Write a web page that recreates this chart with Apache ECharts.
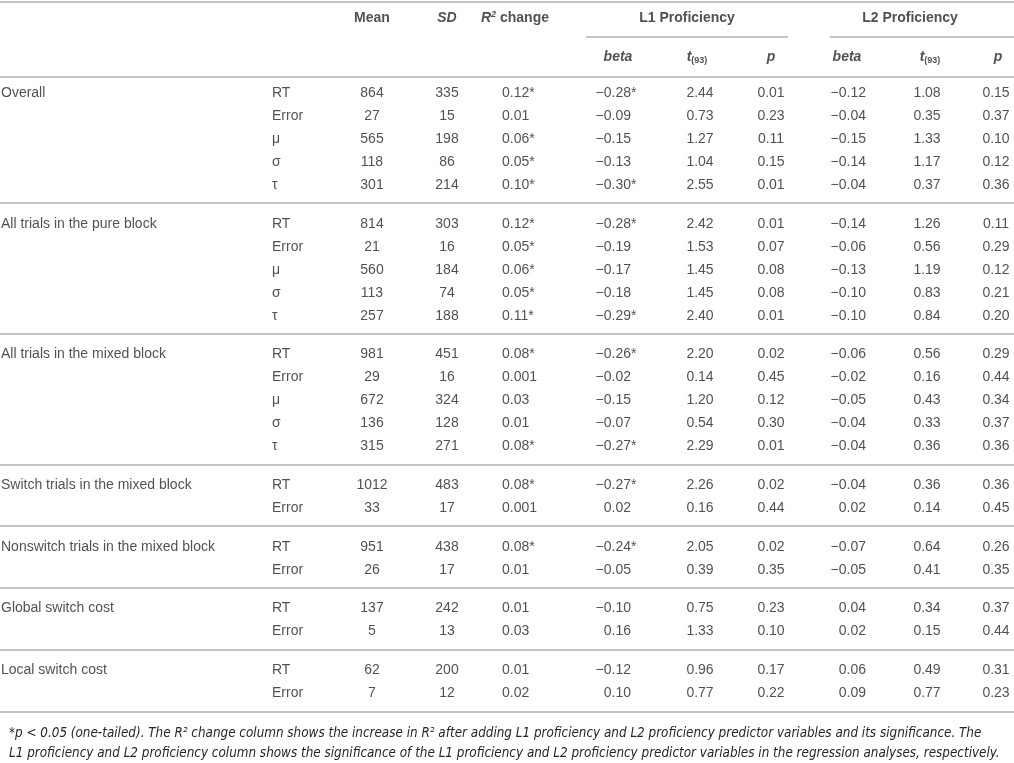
<!DOCTYPE html>
<html><head><meta charset="utf-8">
<script src="https://cdn.jsdelivr.net/npm/echarts@6/dist/echarts.min.js"></script>
<style>html,body{margin:0;padding:0;background:#fff}#c{width:1014px;height:763px}</style>
</head><body><div id="c"></div>
<script>
// ---------- DATA ----------
const groups = ["Overall", "All trials in the pure block", "All trials in the mixed block",
  "Switch trials in the mixed block", "Nonswitch trials in the mixed block",
  "Global switch cost", "Local switch cost"];
const groupSizes = [5, 5, 5, 2, 2, 2, 2];
const measures = ["RT","Error","μ","σ","τ", "RT","Error","μ","σ","τ", "RT","Error","μ","σ","τ",
  "RT","Error", "RT","Error", "RT","Error", "RT","Error"];
const mean = [864,27,565,118,301, 814,21,560,113,257, 981,29,672,136,315, 1012,33, 951,26, 137,5, 62,7];
const sd = [335,15,198,86,214, 303,16,184,74,188, 451,16,324,128,271, 483,17, 438,17, 242,13, 200,12];
const r2 = [0.12,0.01,0.06,0.05,0.10, 0.12,0.05,0.06,0.05,0.11, 0.08,0.001,0.03,0.01,0.08, 0.08,0.001, 0.08,0.01, 0.01,0.03, 0.01,0.02];
const r2Sig = [0,2,3,4,5,6,7,8,9,10,14,15,17];
const beta1 = [-0.28,-0.09,-0.15,-0.13,-0.30, -0.28,-0.19,-0.17,-0.18,-0.29, -0.26,-0.02,-0.15,-0.07,-0.27, -0.27,0.02, -0.24,-0.05, -0.10,0.16, -0.12,0.10];
const beta1Sig = [0,4,5,9,10,14,15,17];
const t1 = [2.44,0.73,1.27,1.04,2.55, 2.42,1.53,1.45,1.45,2.40, 2.20,0.14,1.20,0.54,2.29, 2.26,0.16, 2.05,0.39, 0.75,1.33, 0.96,0.77];
const p1 = [0.01,0.23,0.11,0.15,0.01, 0.01,0.07,0.08,0.08,0.01, 0.02,0.45,0.12,0.30,0.01, 0.02,0.44, 0.02,0.35, 0.23,0.10, 0.17,0.22];
const beta2 = [-0.12,-0.04,-0.15,-0.14,-0.04, -0.14,-0.06,-0.13,-0.10,-0.10, -0.06,-0.02,-0.05,-0.04,-0.04, -0.04,0.02, -0.07,-0.05, 0.04,0.02, 0.06,0.09];
const t2 = [1.08,0.35,1.33,1.17,0.37, 1.26,0.56,1.19,0.83,0.84, 0.56,0.16,0.43,0.33,0.36, 0.36,0.14, 0.64,0.41, 0.34,0.15, 0.49,0.77];
const p2 = [0.15,0.37,0.10,0.12,0.36, 0.11,0.29,0.12,0.21,0.20, 0.29,0.44,0.34,0.37,0.36, 0.36,0.45, 0.26,0.35, 0.37,0.44, 0.31,0.23];
const footnote = [
  "*p < 0.05 (one-tailed). The R² change column shows the increase in R² after adding L1 proficiency and L2 proficiency predictor variables and its significance. The",
  "L1 proficiency and L2 proficiency column shows the significance of the L1 proficiency and L2 proficiency predictor variables in the regression analyses, respectively."
];

// ---------- LAYOUT ----------
const FONT = "'Liberation Sans', Arial, Helvetica, sans-serif";
const FS = 14;
const TXT = '#262626';
const LINE = '#c4c4c4';
const GAP = 0.68;
const X = {group: 1, measure: 272, mean: 372, sd: 447, r2: 502, r2h: 515, beta1: 631, t1: 700, p1: 771,
  beta2: 866, t2: 927, p2: 996, l1: 687, l2: 910, b1h: 618, t1h: 697, p1h: 771, b2h: 847, t2h: 930, p2h: 998};
const Y = {top: -3.96, h1: -3.27, l1line: -2.44, h2: -1.57, headBottom: -0.70};

// row positions on the value y-axis (1 unit = one row)
const rowPos = [], groupStart = [];
(function(){ let i = 0; groupSizes.forEach((n, g) => { groupStart.push(i); for (let k=0;k<n;k++){ rowPos.push(i + g*GAP); i++; } }); })();

const fmt = v => (v < 0 ? '−' : '') + (Math.abs(v) > 0 && Math.abs(v) < 0.01 ? Math.abs(v).toFixed(3) : Math.abs(v).toFixed(2));

function textSeries(name, points, align) {
  return {
    name, type: 'scatter', symbolSize: 0, silent: true, animation: false,
    data: points.map(p => ({value: [p[0], p[1]], txt: p[2]})),
    label: {
      show: true, position: align === 'left' ? 'right' : (align === 'right' ? 'left' : 'inside'),
      distance: 0, align: align, verticalAlign: 'middle',
      color: TXT, fontFamily: FONT, fontSize: FS,
      formatter: p => p.data.txt,
      rich: {
        b: {fontWeight: 'bold', fontSize: FS, color: TXT, fontFamily: FONT},
        bi: {fontWeight: 'bold', fontStyle: 'italic', fontSize: FS, color: TXT, fontFamily: FONT},
        sup: {fontWeight: 'bold', fontStyle: 'italic', fontSize: 9, color: TXT, fontFamily: FONT, verticalAlign: 'top', padding:[0,0,6,0]},
        sub: {fontWeight: 'bold', fontSize: 9, color: TXT, fontFamily: FONT, verticalAlign: 'bottom', padding:[6,0,0,0]}
      }
    }
  };
}

const series = [];
series.push(textSeries('groups', groups.map((g, i) => [X.group, rowPos[groupStart[i]], g]), 'left'));
series.push(textSeries('measures', measures.map((m, i) => [X.measure, rowPos[i], m]), 'left'));
series.push(textSeries('mean', mean.map((v, i) => [X.mean, rowPos[i], String(v)]), 'center'));
series.push(textSeries('sd', sd.map((v, i) => [X.sd, rowPos[i], String(v)]), 'center'));
series.push(textSeries('r2', r2.map((v, i) => [X.r2, rowPos[i], fmt(v) + (r2Sig.includes(i) ? '*' : '')]), 'left'));
series.push(textSeries('beta1', beta1.map((v, i) => [X.beta1, rowPos[i], fmt(v)]), 'right'));
series.push(textSeries('beta1Sig', beta1Sig.map(i => [X.beta1, rowPos[i], '*']), 'left'));
series.push(textSeries('t1', t1.map((v, i) => [X.t1, rowPos[i], fmt(v)]), 'center'));
series.push(textSeries('p1', p1.map((v, i) => [X.p1, rowPos[i], fmt(v)]), 'center'));
series.push(textSeries('beta2', beta2.map((v, i) => [X.beta2, rowPos[i], fmt(v)]), 'right'));
series.push(textSeries('t2', t2.map((v, i) => [X.t2, rowPos[i], fmt(v)]), 'center'));
series.push(textSeries('p2', p2.map((v, i) => [X.p2, rowPos[i], fmt(v)]), 'center'));
// headers
series.push(textSeries('head1', [
  [X.mean, Y.h1, '{b|Mean}'], [X.sd, Y.h1, '{bi|SD}'], [X.r2h, Y.h1, '{bi|R}{sup|2}{b| change}'],
  [X.l1, Y.h1, '{b|L1 Proficiency}'], [X.l2, Y.h1, '{b|L2 Proficiency}']
], 'center'));
series.push(textSeries('head2', [
  [X.b1h, Y.h2, '{bi|beta}'], [X.t1h, Y.h2, '{bi|t}{sub|(93)}'], [X.p1h, Y.h2, '{bi|p}'],
  [X.b2h, Y.h2, '{bi|beta}'], [X.t2h, Y.h2, '{bi|t}{sub|(93)}'], [X.p2h, Y.h2, '{bi|p}']
], 'center'));

// rule lines
const sepLines = [{yAxis: Y.top}, {yAxis: Y.headBottom}];
groupSizes.forEach((n, g) => {
  const last = groupStart[g] + n - 1;
  sepLines.push({yAxis: rowPos[last] + (g === groupSizes.length - 1 ? 0.83 : 0.78)});
});
series.push({
  name: 'rules', type: 'line', data: [], silent: true, animation: false,
  markLine: {
    symbol: 'none', silent: true, animation: false, label: {show: false},
    lineStyle: {color: LINE, width: 2, type: 'solid'},
    data: sepLines.concat([
      [{coord: [586, Y.l1line]}, {coord: [788, Y.l1line]}],
      [{coord: [830, Y.l1line]}, {coord: [1014, Y.l1line]}]
    ])
  }
});

const chart = echarts.init(document.getElementById('c'), null, {renderer: 'canvas'});
chart.setOption({
  animation: false,
  backgroundColor: '#fff',
  title: {
    text: footnote.join('\n'), left: 4, top: 719,
    textStyle: {fontFamily: "'Liberation Sans Narrow', 'DejaVu Sans Condensed', 'Arial Narrow', sans-serif",
      fontStyle: 'italic', fontWeight: 'normal', fontSize: 13.35, color: TXT, lineHeight: 20}
  },
  grid: {left: 0, right: 0, top: 0, bottom: 0},
  xAxis: {type: 'value', min: 0, max: 1014, show: false},
  yAxis: {type: 'value', inverse: true, min: -4.05, max: -4.05 + 763/23, show: false},
  series
});
</script></body></html>
